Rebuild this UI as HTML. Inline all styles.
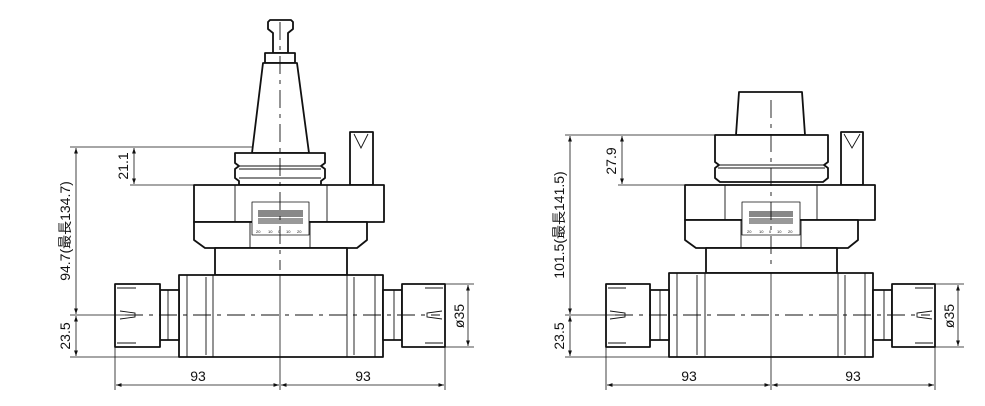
<!DOCTYPE html>
<html><head><meta charset="utf-8"><style>
html,body{margin:0;padding:0;background:#fff}
svg{display:block}
text{font-family:"Liberation Sans","Noto Sans CJK SC",sans-serif;fill:#111}
.s{fill:#fff;stroke:#111;stroke-width:1.8;stroke-linejoin:round}
.t{fill:none;stroke:#111;stroke-width:0.9}
.c{fill:none;stroke:#111;stroke-width:0.9;stroke-dasharray:18,6,4,6}
.d{fill:none;stroke:#111;stroke-width:0.8}
</style></head><body>
<svg width="985" height="406" viewBox="0 0 985 406" xmlns="http://www.w3.org/2000/svg">
<defs>
<marker id="a" viewBox="0 0 10 10" refX="10" refY="5" markerWidth="7" markerHeight="7" orient="auto-start-reverse"><path d="M0,1.5 L10,5 L0,8.5 z" fill="#111"/></marker>
</defs>

<g>
<path class="s" d="M268,22 L270,20 L291,20 L293,22 L293,29 L288,33 L288,53 L273,53 L273,33 L268,29 Z"/>
<rect class="s" x="265" y="53" width="30" height="10"/>
<path class="s" d="M263,63 L297,63 L309,153 L252,153 Z"/>
<path class="s" d="M235,153 L325,153 L325,163 L321,166 L325,169 L325,178 L321,181 L321,185 L239,185 L239,181 L235,178 L235,169 L239,166 L235,163 Z"/>
<line class="t" x1="239" y1="166" x2="321" y2="166"/><line class="t" x1="239" y1="169" x2="321" y2="169"/><line class="t" x1="239" y1="178" x2="321" y2="178"/>
<rect class="s" x="350" y="132" width="23" height="53"/>
<path class="t" d="M354,134 L361,148 L368,134"/>
<rect class="s" x="194" y="185" width="190" height="37"/>
<line class="t" x1="235" y1="185" x2="235" y2="222"/><line class="t" x1="327" y1="185" x2="327" y2="222"/>
<path class="s" d="M194,222 L367,222 L367,240 L357,248 L205,248 L194,240 Z"/>
<line class="t" x1="250" y1="222" x2="250" y2="248"/><line class="t" x1="310" y1="222" x2="310" y2="248"/>
<rect class="s" x="252" y="202" width="57" height="33" style="stroke-width:0.8"/>
<rect x="258" y="210" width="45" height="7" fill="#888"/>
<rect x="258" y="218" width="45" height="6" fill="#999"/>
<g font-size="4"><text x="256" y="233">20</text><text x="268" y="233">10</text><text x="278" y="233">0</text><text x="286" y="233">10</text><text x="297" y="233">20</text></g>
<rect class="s" x="215" y="248" width="132" height="27"/>
<rect class="s" x="179" y="275" width="204" height="82"/>
<line class="t" x1="187" y1="275" x2="187" y2="357"/><line class="t" x1="206" y1="277" x2="206" y2="355"/><line class="t" x1="213" y1="275" x2="213" y2="357"/>
<line class="t" x1="347" y1="275" x2="347" y2="357"/><line class="t" x1="354" y1="277" x2="354" y2="355"/><line class="t" x1="375" y1="275" x2="375" y2="357"/>
<rect class="s" x="160" y="290" width="19" height="50"/><line class="t" x1="168" y1="290" x2="168" y2="340"/>
<rect class="s" x="115" y="284" width="45" height="63"/>
<path class="t" d="M117,288 L136,288 M117,343 L136,343 M120,311 L135,313 L135,317 L120,319"/>
<rect class="s" x="383" y="290" width="19" height="50"/><line class="t" x1="394" y1="290" x2="394" y2="340"/>
<rect class="s" x="402" y="284" width="43" height="63"/>
<path class="t" d="M425,288 L443,288 M425,343 L443,343 M442,311 L427,313 L427,317 L442,319"/>
<line class="c" x1="280" y1="22" x2="280" y2="270"/>
<line class="d" x1="280" y1="275" x2="280" y2="390"/>
<line class="c" x1="125" y1="315" x2="440" y2="315"/>
<line class="d" x1="70" y1="147" x2="252" y2="147"/>
<line class="d" x1="130" y1="185" x2="194" y2="185"/>
<line class="d" x1="134" y1="148" x2="134" y2="184" marker-start="url(#a)" marker-end="url(#a)"/>
<text transform="translate(128,166) rotate(-90)" font-size="14" text-anchor="middle">21.1</text>
<line class="d" x1="70" y1="315" x2="125" y2="315"/>
<line class="d" x1="70" y1="357" x2="179" y2="357"/>
<line class="d" x1="76" y1="148" x2="76" y2="314" marker-start="url(#a)" marker-end="url(#a)"/>
<line class="d" x1="76" y1="316" x2="76" y2="356" marker-start="url(#a)" marker-end="url(#a)"/>
<text transform="translate(70,231) rotate(-90)" font-size="14" text-anchor="middle">94.7(最長134.7)</text>
<text transform="translate(70,336) rotate(-90)" font-size="14" text-anchor="middle">23.5</text>
<line class="d" x1="115" y1="347" x2="115" y2="390"/><line class="d" x1="445" y1="347" x2="445" y2="390"/>
<line class="d" x1="116" y1="385" x2="279" y2="385" marker-start="url(#a)" marker-end="url(#a)"/>
<line class="d" x1="281" y1="385" x2="444" y2="385" marker-start="url(#a)" marker-end="url(#a)"/>
<text x="198" y="381" font-size="14" text-anchor="middle">93</text>
<text x="363" y="381" font-size="14" text-anchor="middle">93</text>
<line class="d" x1="445" y1="284" x2="474" y2="284"/><line class="d" x1="445" y1="347" x2="474" y2="347"/>
<line class="d" x1="468" y1="285" x2="468" y2="346" marker-start="url(#a)" marker-end="url(#a)"/>
<text transform="translate(464,316) rotate(-90)" font-size="14" text-anchor="middle">ø35</text>
</g>

<g>
<path class="s" d="M739,92 L802,92 L805,135 L736,135 Z"/>
<path class="s" d="M715,135 L828,135 L828,162 L824,165 L828,168 L828,178 L823,182 L720,182 L715,178 L715,168 L719,165 L715,162 Z"/>
<line class="t" x1="718" y1="165" x2="825" y2="165"/><line class="t" x1="718" y1="168" x2="825" y2="168"/>
<rect class="s" x="841" y="132" width="22" height="53"/>
<path class="t" d="M844,134 L852,148 L860,134"/>
<rect class="s" x="685" y="185" width="190" height="35"/>
<line class="t" x1="725" y1="185" x2="725" y2="220"/><line class="t" x1="817" y1="185" x2="817" y2="220"/>
<path class="s" d="M685,220 L858,220 L858,240 L848,248 L696,248 L685,240 Z"/>
<line class="t" x1="741" y1="220" x2="741" y2="248"/><line class="t" x1="801" y1="220" x2="801" y2="248"/>
<rect class="s" x="742" y="202" width="58" height="33" style="stroke-width:0.8"/>
<rect x="749" y="211" width="44" height="6" fill="#888"/>
<rect x="749" y="218" width="44" height="6" fill="#999"/>
<g font-size="4"><text x="747" y="233">20</text><text x="759" y="233">10</text><text x="769" y="233">0</text><text x="777" y="233">10</text><text x="788" y="233">20</text></g>
<rect class="s" x="706" y="248" width="131" height="25"/>
<rect class="s" x="669" y="273" width="204" height="84"/>
<line class="t" x1="677" y1="273" x2="677" y2="357"/><line class="t" x1="697" y1="275" x2="697" y2="355"/><line class="t" x1="705" y1="273" x2="705" y2="357"/>
<line class="t" x1="838" y1="273" x2="838" y2="357"/><line class="t" x1="845" y1="275" x2="845" y2="355"/><line class="t" x1="865" y1="273" x2="865" y2="357"/>
<rect class="s" x="650" y="290" width="19" height="50"/><line class="t" x1="660" y1="290" x2="660" y2="340"/>
<rect class="s" x="606" y="284" width="44" height="63"/>
<path class="t" d="M608,288 L626,288 M608,343 L626,343 M610,311 L625,313 L625,317 L610,319"/>
<rect class="s" x="873" y="290" width="19" height="50"/><line class="t" x1="884" y1="290" x2="884" y2="340"/>
<rect class="s" x="892" y="284" width="43" height="63"/>
<path class="t" d="M915,288 L933,288 M915,343 L933,343 M932,311 L917,313 L917,317 L932,319"/>
<line class="c" x1="771" y1="100" x2="771" y2="270"/>
<line class="d" x1="771" y1="273" x2="771" y2="390"/>
<line class="c" x1="615" y1="315" x2="930" y2="315"/>
<line class="d" x1="565" y1="135" x2="715" y2="135"/>
<line class="d" x1="618" y1="185" x2="685" y2="185"/>
<line class="d" x1="622" y1="136" x2="622" y2="184" marker-start="url(#a)" marker-end="url(#a)"/>
<text transform="translate(616,161) rotate(-90)" font-size="14" text-anchor="middle">27.9</text>
<line class="d" x1="565" y1="315" x2="615" y2="315"/>
<line class="d" x1="565" y1="357" x2="669" y2="357"/>
<line class="d" x1="570" y1="136" x2="570" y2="314" marker-start="url(#a)" marker-end="url(#a)"/>
<line class="d" x1="570" y1="316" x2="570" y2="356" marker-start="url(#a)" marker-end="url(#a)"/>
<text transform="translate(564,225) rotate(-90)" font-size="14" text-anchor="middle">101.5(最長141.5)</text>
<text transform="translate(564,336) rotate(-90)" font-size="14" text-anchor="middle">23.5</text>
<line class="d" x1="606" y1="347" x2="606" y2="390"/><line class="d" x1="935" y1="347" x2="935" y2="390"/>
<line class="d" x1="607" y1="385" x2="770" y2="385" marker-start="url(#a)" marker-end="url(#a)"/>
<line class="d" x1="772" y1="385" x2="934" y2="385" marker-start="url(#a)" marker-end="url(#a)"/>
<text x="689" y="381" font-size="14" text-anchor="middle">93</text>
<text x="853" y="381" font-size="14" text-anchor="middle">93</text>
<line class="d" x1="935" y1="284" x2="964" y2="284"/><line class="d" x1="935" y1="347" x2="964" y2="347"/>
<line class="d" x1="958" y1="285" x2="958" y2="346" marker-start="url(#a)" marker-end="url(#a)"/>
<text transform="translate(954,316) rotate(-90)" font-size="14" text-anchor="middle">ø35</text>
</g>
</svg>
</body></html>
